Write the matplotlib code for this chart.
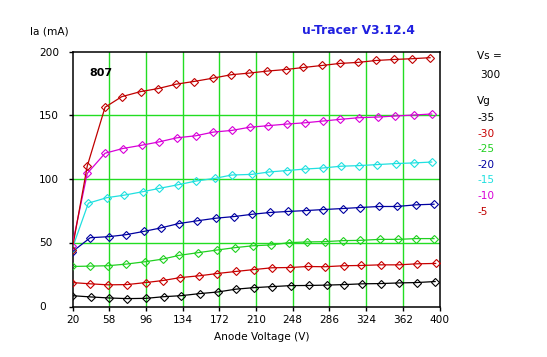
import matplotlib
matplotlib.use("Agg")
import matplotlib.pyplot as plt

# ---- data ----
vg_labels = ["-35", "-30", "-25", "-20", "-15", "-10", "-5"]
colors = ["#000000", "#c80000", "#20d020", "#0000a0", "#20e0e0", "#d800d8", "#c00000"]

va_m35 = [19.5, 39, 57.5, 76.5, 96, 114.5, 132.5, 151.5, 170.5, 189, 208, 226.5, 246, 264.5, 283, 301.5, 320, 339, 358, 376.5, 395.5]
ia_m35 = [8.5, 7.5, 6.7, 6.2, 6.4, 7.7, 8.5, 10.1, 11.4, 13.6, 14.8, 15.6, 16.4, 16.5, 16.8, 17.2, 17.8, 18.0, 18.5, 18.8, 19.6]

va_m30 = [19.5, 38.4, 56.8, 76.4, 96, 113.7, 131.6, 151.3, 170, 189, 208, 226.6, 245.2, 263.5, 281.4, 300.8, 318.4, 339, 358, 376.4, 396]
ia_m30 = [18.8, 17.8, 17.0, 17.2, 18.8, 20.4, 22.7, 24.1, 25.9, 27.5, 29.0, 30.4, 30.6, 31.4, 31.2, 32.0, 32.2, 32.7, 32.7, 33.5, 33.8]

va_m25 = [19.5, 37.8, 56.8, 75.7, 94.8, 113.4, 130, 149.6, 169.3, 188.3, 207.2, 225.2, 244.2, 262.8, 281.4, 300, 317.7, 338.4, 357.3, 375.7, 394.3]
ia_m25 = [31.4, 31.7, 32.0, 33.3, 35.1, 37.2, 40.1, 42.2, 44.3, 46.2, 47.7, 48.3, 50.1, 50.7, 50.9, 51.7, 51.9, 52.7, 52.7, 53.3, 53.3]

va_m20 = [19.5, 38.4, 57.5, 75.7, 94.3, 111.6, 129.9, 148.6, 168.3, 187.2, 206.2, 224.5, 243.1, 261.8, 279.7, 299.8, 317.7, 337.4, 355.7, 375.7, 394.3]
ia_m20 = [42.8, 54.0, 54.8, 56.4, 59.0, 61.7, 65.1, 67.2, 69.3, 70.6, 72.4, 73.8, 74.6, 75.3, 76.1, 76.9, 77.7, 78.5, 78.5, 79.8, 80.3]

va_m15 = [19.5, 36.4, 55.4, 73.6, 92.7, 109.8, 129.5, 147.9, 167.5, 184.8, 205.5, 223.8, 241.8, 260.8, 279, 297.7, 317, 335.6, 354.7, 373.6, 391.9]
ia_m15 = [45.0, 81.1, 85.4, 87.4, 90.1, 92.7, 95.6, 98.5, 100.6, 103.2, 103.7, 105.6, 106.7, 107.9, 108.7, 110.1, 110.6, 111.4, 112.2, 112.7, 113.4]

va_m10 = [19.5, 35.3, 53.7, 72, 91.7, 109.6, 127.9, 147.6, 165.8, 184.8, 203.4, 222, 241.8, 260.8, 279.7, 297, 316.6, 336, 353.6, 373.6, 391.9]
ia_m10 = [47.2, 104.5, 120.3, 124.0, 126.6, 129.2, 132.4, 134.0, 136.9, 138.2, 140.7, 141.9, 143.2, 144.2, 145.6, 146.9, 148.2, 148.7, 149.5, 150.3, 151.1]

va_m5 = [19.5, 35.3, 53.7, 71, 90.6, 108.2, 127.2, 145.5, 165.2, 184.1, 202.8, 221.8, 240.8, 259, 278.4, 297, 315.6, 334.2, 352.9, 371.5, 390.2]
ia_m5 = [44.0, 110.3, 156.4, 164.7, 168.7, 171.0, 174.5, 176.6, 179.2, 181.9, 183.2, 184.8, 186.0, 187.6, 189.2, 190.8, 191.6, 193.1, 193.9, 194.5, 195.3]

curves_va = [va_m35, va_m30, va_m25, va_m20, va_m15, va_m10, va_m5]
curves_ia = [ia_m35, ia_m30, ia_m25, ia_m20, ia_m15, ia_m10, ia_m5]

x_ticks = [20, 58, 96, 134, 172, 210, 248, 286, 324, 362, 400]
y_ticks = [0, 50, 100, 150, 200]
tube = "807"
vs_value = "300"

# ---- figure ----
W, H = 547, 357
fig = plt.figure(figsize=(W / 100, H / 100), dpi=100)
fig.patch.set_facecolor("white")
ax = fig.add_axes([72.5 / W, 1 - 306.5 / H, 367 / W, 254.8 / H])
ax.set_xlim(20, 400)
ax.set_ylim(0, 200)

grid_c = "#22dd22"
for xv in x_ticks[1:-1]:
    ax.axvline(xv, color=grid_c, lw=1.0, zorder=1)
for yv in y_ticks[1:-1]:
    ax.axhline(yv, color=grid_c, lw=1.0, zorder=1)

for va, ia, c in zip(curves_va, curves_ia, colors):
    ax.plot(va, ia, color=c, lw=0.9, marker="D", markersize=4.0,
            markerfacecolor="none", markeredgecolor=c, markeredgewidth=0.8, zorder=3)

fs = 7.6
ax.set_xticks(x_ticks)
ax.set_xticklabels([str(v) for v in x_ticks], fontsize=fs)
ax.set_yticks(y_ticks)
ax.set_yticklabels([])
ax.tick_params(axis="both", direction="out", length=3, width=1, color="black", pad=3)
for s in ax.spines.values():
    s.set_linewidth(1.1)
    s.set_color("black")

for yv in y_ticks:
    ypx = 306.5 - yv * 1.2675
    fig.text(39 / W, 1 - ypx / H, str(yv), fontsize=fs, ha="left", va="center")

ax.text(0.045, 0.915, tube, transform=ax.transAxes, fontsize=8, fontweight="bold",
        ha="left", va="center")

fig.text(30 / W, 1 - 31 / H, "Ia (mA)", fontsize=fs, ha="left", va="center")
fig.text(358 / W, 1 - 31 / H, "u-Tracer V3.12.4", fontsize=8.8, fontweight="bold",
         color="#2020e0", ha="center", va="center")
fig.text(262 / W, 1 - 337 / H, "Anode Voltage (V)", fontsize=fs, ha="center", va="center")

fig.text(477 / W, 1 - 56 / H, "Vs =", fontsize=fs, ha="left", va="center")
fig.text(480 / W, 1 - 75 / H, vs_value, fontsize=fs, ha="left", va="center")
fig.text(477 / W, 1 - 101 / H, "Vg", fontsize=fs, ha="left", va="center")
for i, (lab, c) in enumerate(zip(vg_labels, colors)):
    ypx = 118 + i * 15.6
    fig.text(477 / W, 1 - ypx / H, lab, fontsize=fs, color=c, ha="left", va="center")

fig.savefig("out.png", dpi=100, facecolor="white")
